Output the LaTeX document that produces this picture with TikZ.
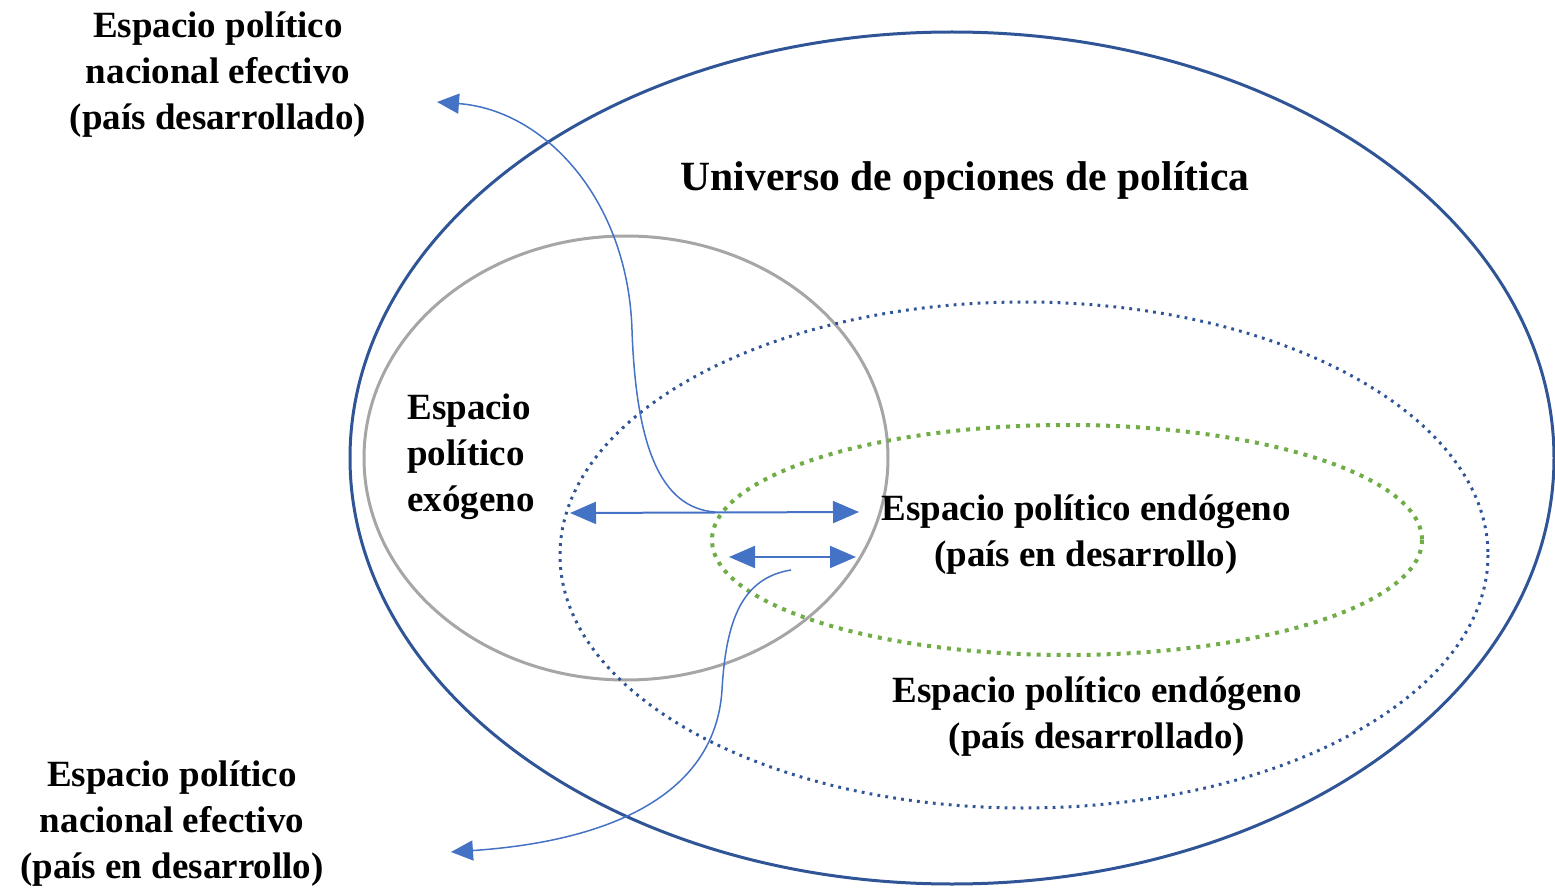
\documentclass[tikz,border=0pt]{standalone}
\usepackage{fontspec}
\setmainfont{Liberation Serif}
\usetikzlibrary{arrows.meta}
\definecolor{outerblue}{HTML}{2F5597}
\definecolor{arrowblue}{HTML}{4472C4}
\definecolor{circgray}{HTML}{A6A6A6}
\definecolor{dotgreen}{HTML}{70AD47}
\begin{document}
\begin{tikzpicture}[x=0.5pt,y=-0.5pt,
  lbl/.style={font=\fontsize{18.5}{23}\selectfont\bfseries, align=center, inner sep=0pt},
  lbll/.style={lbl, align=left},
  dblarrow/.style={draw=arrowblue, line width=1pt, {Triangle[length=13pt,width=11pt]}-{Triangle[length=13pt,width=11pt]}},
  curvearrow/.style={draw=arrowblue, line width=0.75pt, -{Triangle[length=11pt,width=10pt]}}]
\useasboundingbox (0,0) rectangle (1555,888);
% ellipses
\draw[outerblue, line width=1.5pt] (952,458) ellipse [x radius=602, y radius=426];
\draw[circgray, line width=1.5pt] (626,458) ellipse [x radius=262, y radius=222];
\draw[outerblue, line width=1.5pt, dash pattern=on 1.4pt off 2.6pt] (1024,555) ellipse [x radius=464, y radius=253];
\draw[dotgreen, line width=2pt, dash pattern=on 2pt off 3pt] (1067,540) ellipse [x radius=355, y radius=115];
% labels
\node[lbl] (nacdes) at (218,75) {Espacio político\\nacional efectivo\\(país desarrollado)};
\node[lbl] (nacdev) at (172,824) {Espacio político\\nacional efectivo\\(país en desarrollo)};
\node[lbl, font=\fontsize{20.8}{25}\selectfont\bfseries] (univ) at (965,180) {Universo de opciones de política};
\node[lbll, anchor=west] (exo) at (407,457) {Espacio\\político\\exógeno};
\node[lbl] (endev) at (1086,535) {Espacio político endógeno\\(país en desarrollo)};
\node[lbl] (endes) at (1097,717) {Espacio político endógeno\\(país desarrollado)};
% arrow endpoints
\coordinate (a1) at (570,513);
\coordinate (a2) at (859,512);
\coordinate (b1) at (729,557);
\coordinate (b2) at (856,557);
\coordinate (c0) at (715,512);
\coordinate (c1) at (437,102);
\coordinate (d0) at (791,570);
\coordinate (d1) at (451,852);
\draw[dblarrow] (a1) -- (a2);
\draw[dblarrow] (b1) -- (b2);
\draw[curvearrow] (c0) .. controls (660,508) and (636,445) .. (632,330) .. controls (628,200) and (545,110) .. (c1);
\draw[curvearrow] (d0) .. controls (742,578) and (726,620) .. (722,690) .. controls (715,800) and (600,842) .. (d1);
\end{tikzpicture}
\end{document}
